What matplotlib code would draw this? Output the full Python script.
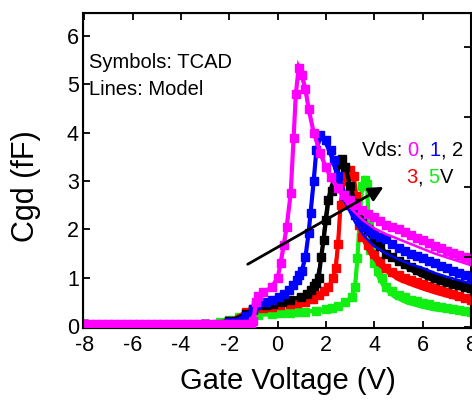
import matplotlib
matplotlib.use("Agg")
import matplotlib.pyplot as plt

plt.rcParams['font.family'] = ['Liberation Sans', 'DejaVu Sans']

# ---------------- data ----------------
vds_labels = ["0", "1", "2", "3", "5"]
colors = ["#FF00FF", "#0000FF", "#000000", "#FF0000", "#11EE11"]

# TCAD (symbols)
tcad_x0 = [-8, -7.75, -7.5, -7.25, -7, -6.75, -6.5, -6.25, -6, -5.75, -5.5, -5.25, -5, -4.75, -4.5, -4.25,
           -4, -3.75, -3.5, -3.25, -3, -2.75, -2.5, -2.25, -2, -1.75, -1.5, -1.25, -1.1, -1.0, -0.9, -0.8, -0.6,
           -0.25, 0.0, 0.12, 0.25, 0.37, 0.54, 0.66, 0.75, 0.87, 1.0, 1.15, 1.28, 1.49, 1.77, 1.98, 2.2, 2.5,
           2.75, 3.0, 3.25, 3.5, 3.75, 4.0, 4.25, 4.5, 4.75, 5.0, 5.25, 5.5, 5.75, 6.0, 6.25, 6.5, 6.75, 7.0,
           7.25, 7.5, 7.75, 8.0]
tcad_y0 = [0.04, 0.04, 0.04, 0.04, 0.04, 0.04, 0.04, 0.04, 0.04, 0.04, 0.04, 0.04, 0.04, 0.04, 0.04, 0.04,
           0.04, 0.04, 0.04, 0.04, 0.04, 0.04, 0.04, 0.04, 0.04, 0.04, 0.04, 0.04, 0.04, 0.1, 0.5,
           0.62, 0.7, 0.8, 1.0, 1.3, 1.68, 2.05, 2.75, 3.9, 4.8, 5.35, 5.2, 4.9, 4.5, 4.0, 3.58, 3.3, 3.08, 2.85,
           2.72, 2.6, 2.5, 2.4, 2.32, 2.25, 2.17, 2.1, 2.05, 2.0, 1.94, 1.88, 1.83, 1.78, 1.72, 1.66, 1.61, 1.56,
           1.51, 1.47, 1.42, 1.38]

tcad_x1 = [-8, -3, -2, -1.3, -1.0, -0.9, -0.5, -0.25, 0.04, 0.25, 0.45, 0.65, 0.79, 0.9, 1.0, 1.15, 1.28, 1.36,
           1.49, 1.6, 1.77, 2.02, 2.19, 2.31, 2.5, 2.8, 3.0, 3.2, 3.4, 3.6, 3.8, 4.0, 4.25, 4.5, 4.75, 5.0, 5.25,
           5.5, 5.75, 6.0, 6.25, 6.5, 6.75, 7.0, 7.25, 7.5, 7.75, 8.0]
tcad_y1 = [0.04, 0.05, 0.08, 0.2, 0.35, 0.43, 0.5, 0.55, 0.6, 0.67, 0.75, 0.85, 0.95, 1.05, 1.15, 1.43, 1.93, 2.34,
           3.0, 3.64, 3.95, 3.85, 3.64, 3.43, 3.1, 2.7, 2.5, 2.3, 2.15, 2.05, 1.97, 1.9, 1.85, 1.8, 1.7, 1.62,
           1.56, 1.5, 1.45, 1.4, 1.35, 1.3, 1.25, 1.2, 1.15, 1.1, 1.06, 1.02]

tcad_x2 = [-8, -3, -2, -1.3, -1.0, -0.5, -0.2, 0.17, 0.5, 0.95, 1.2, 1.36, 1.5, 1.6, 1.7, 1.8, 1.9, 2.0, 2.1,
           2.25, 2.4, 2.55, 2.65, 2.8, 3.0, 3.2, 3.5, 3.75, 4.0, 4.25, 4.5, 4.75, 5.0, 5.25, 5.5, 5.75, 6.0,
           6.25, 6.5, 6.75, 7.0, 7.25, 7.5, 7.75, 8.0]
tcad_y2 = [0.04, 0.05, 0.1, 0.25, 0.35, 0.43, 0.46, 0.5, 0.55, 0.6, 0.67, 0.74, 0.82, 0.9, 1.0, 1.43, 1.78, 2.2,
           2.6, 2.8, 3.0, 3.35, 3.45, 3.3, 2.9, 2.55, 2.2, 2.0, 1.8, 1.65, 1.5, 1.42, 1.35, 1.28, 1.22, 1.17,
           1.12, 1.06, 1.0, 0.96, 0.92, 0.88, 0.85, 0.81, 0.78]

tcad_x3 = [-8, -3, -2, -1.3, -1.0, -0.6, -0.25, 0.1, 0.5, 0.8, 1.15, 1.45, 1.69, 1.9, 2.1, 2.3, 2.4, 2.5, 2.6,
           2.73, 2.85, 3.0, 3.15, 3.25, 3.35, 3.5, 3.75, 4.0, 4.25, 4.5, 4.75, 5.0, 5.25, 5.5, 5.75, 6.0, 6.25,
           6.5, 6.75, 7.0, 7.25, 7.5, 7.75, 8.0]
tcad_y3 = [0.04, 0.05, 0.1, 0.29, 0.33, 0.37, 0.4, 0.43, 0.45, 0.47, 0.5, 0.57, 0.64, 0.72, 0.8, 1.0, 1.2, 1.7,
           2.5, 3.0, 3.15, 3.22, 3.1, 2.7, 2.1, 1.85, 1.67, 1.5, 1.35, 1.2, 1.12, 1.05, 1.0, 0.95, 0.91, 0.88,
           0.83, 0.78, 0.74, 0.7, 0.66, 0.62, 0.58, 0.55]

tcad_x5 = [-8, -3, -2.4, -2.0, -1.6, -1.3, -0.8, -0.25, 0.15, 0.5, 0.85, 1.15, 1.6, 2.0, 2.25, 2.5, 2.8, 3.06,
           3.2, 3.3, 3.4, 3.5, 3.6, 3.7, 3.76, 3.84, 4.0, 4.15, 4.3, 4.5, 4.75, 5.0, 5.25, 5.5, 5.75, 6.0, 6.25,
           6.5, 6.75, 7.0, 7.25, 7.5, 7.75, 8.0]
tcad_y5 = [0.04, 0.05, 0.08, 0.13, 0.19, 0.22, 0.24, 0.25, 0.27, 0.28, 0.29, 0.3, 0.32, 0.35, 0.38, 0.42, 0.5,
           0.6, 0.8, 1.4, 2.3, 2.9, 3.03, 2.95, 2.13, 1.57, 1.3, 1.15, 1.0, 0.8, 0.72, 0.65, 0.6, 0.55, 0.51,
           0.48, 0.45, 0.42, 0.39, 0.37, 0.35, 0.33, 0.31, 0.3]

# Model (lines)
model_x0 = [-8, -1.1, -1.0, -0.9, -0.7, -0.3, 0.0, 0.2, 0.4, 0.55, 0.7, 0.85, 1.0, 1.2, 1.5, 1.8, 2.1, 2.5,
            3.0, 3.5, 4.0, 4.5, 5.0, 5.5, 6.0, 6.5, 7.0, 7.5, 8.0]
model_y0 = [0.03, 0.03, 0.15, 0.5, 0.65, 0.8, 1.0, 1.45, 2.1, 2.9, 4.3, 5.3, 5.15, 4.7, 4.0, 3.5, 3.15, 2.8,
            2.45, 2.2, 2.02, 1.9, 1.8, 1.7, 1.6, 1.5, 1.42, 1.34, 1.26]

model_x1 = [-8, -3, -2, -1.5, -1.0, -0.5, 0.0, 0.5, 0.9, 1.1, 1.25, 1.4, 1.55, 1.75, 1.95, 2.2, 2.5, 2.8,
            3.2, 3.6, 4.0, 4.5, 5.0, 5.5, 6.0, 6.5, 7.0, 7.5, 8.0]
model_y1 = [0.03, 0.04, 0.08, 0.15, 0.35, 0.48, 0.58, 0.75, 1.0, 1.3, 1.8, 2.6, 3.4, 3.88, 3.8, 3.5, 3.0, 2.55,
            2.15, 1.85, 1.65, 1.5, 1.38, 1.28, 1.2, 1.1, 1.02, 0.95, 0.88]

model_x2 = [-8, -3, -2, -1.5, -1.0, -0.5, 0.2, 0.9, 1.3, 1.6, 1.75, 1.85, 1.95, 2.05, 2.2, 2.4, 2.6, 2.75,
            2.9, 3.1, 3.4, 3.8, 4.2, 4.6, 5.0, 5.5, 6.0, 6.5, 7.0, 7.5, 8.0]
model_y2 = [0.03, 0.04, 0.08, 0.15, 0.3, 0.42, 0.5, 0.6, 0.73, 0.95, 1.3, 1.7, 2.2, 2.6, 2.9, 3.2, 3.42, 3.4,
            3.1, 2.6, 2.2, 1.85, 1.6, 1.42, 1.3, 1.15, 1.02, 0.92, 0.84, 0.77, 0.7]

model_x3 = [-8, -3, -2, -1.3, -0.5, 0.5, 1.2, 1.7, 2.1, 2.3, 2.45, 2.55, 2.65, 2.8, 3.0, 3.15, 3.25, 3.35,
            3.5, 3.8, 4.2, 4.6, 5.0, 5.5, 6.0, 6.5, 7.0, 7.5, 8.0]
model_y3 = [0.03, 0.05, 0.1, 0.27, 0.38, 0.45, 0.5, 0.62, 0.8, 1.0, 1.5, 2.2, 2.8, 3.12, 3.2, 3.0, 2.6, 2.15,
            1.8, 1.5, 1.25, 1.08, 0.95, 0.85, 0.76, 0.68, 0.61, 0.55, 0.5]

model_x5 = [-8, -3, -2.4, -1.6, -1.0, 0.0, 1.0, 2.0, 2.5, 2.8, 3.05, 3.2, 3.3, 3.4, 3.5, 3.6, 3.7, 3.8,
            3.9, 4.1, 4.4, 4.8, 5.3, 6.0, 6.5, 7.0, 7.5, 8.0]
model_y5 = [0.03, 0.05, 0.08, 0.17, 0.21, 0.24, 0.28, 0.33, 0.4, 0.48, 0.6, 0.9, 1.5, 2.3, 2.9, 3.02, 2.9, 2.1,
            1.5, 1.05, 0.78, 0.6, 0.48, 0.38, 0.33, 0.3, 0.27, 0.25]

tcad_x = [tcad_x0, tcad_x1, tcad_x2, tcad_x3, tcad_x5]
tcad_y = [tcad_y0, tcad_y1, tcad_y2, tcad_y3, tcad_y5]
model_x = [model_x0, model_x1, model_x2, model_x3, model_x5]
model_y = [model_y0, model_y1, model_y2, model_y3, model_y5]

x_ticks = [-8, -6, -4, -2, 0, 2, 4, 6, 8]
y_ticks = [0, 1, 2, 3, 4, 5, 6]
right_ticks = [0, 1, 2, 3, 4]

arrow_start = (-1.24, 1.28)
arrow_end = (4.38, 2.88)

# ---------------- figure ----------------
fig = plt.figure(figsize=(4.72, 4.04), dpi=100)
ax = fig.add_axes([0.176, 0.188, 0.822, 0.780])

for i in reversed(range(len(vds_labels))):
    ax.plot(tcad_x[i], tcad_y[i], color=colors[i], lw=3.0, marker='s', ms=6,
            solid_joinstyle='miter', zorder=2 + (4 - i))
    ax.plot(model_x[i], model_y[i], color=colors[i], lw=1.8, zorder=2.5 + (4 - i))

ax.set_xlim(-8.05, 8.0)
ax.set_ylim(-0.04, 6.48)
ax.set_xticks(x_ticks)
ax.set_yticks(y_ticks)
ax.set_xticklabels([str(v) for v in x_ticks])
ax.set_yticklabels([str(v) for v in y_ticks])
ax.tick_params(axis='both', direction='in', length=5, width=1.3, labelsize=15.5,
               top=True, right=False, pad=3)
ax.tick_params(axis='x', pad=5)
for s in ax.spines.values():
    s.set_linewidth(1.5)

# right-side ticks (neighbouring scale)
ax2 = ax.twinx()
ax2.set_ylim(-0.014, 4.49)
ax2.set_yticks(right_ticks)
ax2.tick_params(axis='y', direction='in', length=5, width=1.3, labelright=False)

ax.set_xlabel("Gate Voltage (V)", fontsize=21)
ax.xaxis.set_label_coords(0.528, -0.125)
ax.set_ylabel("Cgd (fF)", fontsize=22)
ax.yaxis.set_label_coords(-0.108, 0.45)

ax.text(0.015, 0.825, "Symbols: TCAD", transform=ax.transAxes, fontsize=14.5, va='baseline')
ax.text(0.015, 0.74, "Lines: Model", transform=ax.transAxes, fontsize=14.5, va='baseline')

# coloured Vds legend text
t = ax.text(0.718, 0.545, "Vds: ", transform=ax.transAxes, fontsize=14.5, va='baseline')
parts1 = [("0", colors[0]), (", ", "k"), ("1", colors[1]), (", ", "k"), ("2", colors[2])]
prev = t
for s, c in parts1:
    prev = ax.annotate(s, xycoords=prev, xy=(1, 0), va='bottom', fontsize=14.5, color=c)
t2 = ax.text(0.833, 0.46, "3", transform=ax.transAxes, fontsize=14.5, va='baseline', color=colors[3])
prev = t2
for s, c in [(", ", "k"), ("5", colors[4]), ("V", "k")]:
    prev = ax.annotate(s, xycoords=prev, xy=(1, 0), va='bottom', fontsize=14.5, color=c)

ax.annotate("", xy=arrow_end, xytext=arrow_start,
            arrowprops=dict(arrowstyle='-|>', lw=2, color='k', mutation_scale=22,
                            shrinkA=0, shrinkB=0), zorder=20)

fig.savefig("out.png", dpi=100)
